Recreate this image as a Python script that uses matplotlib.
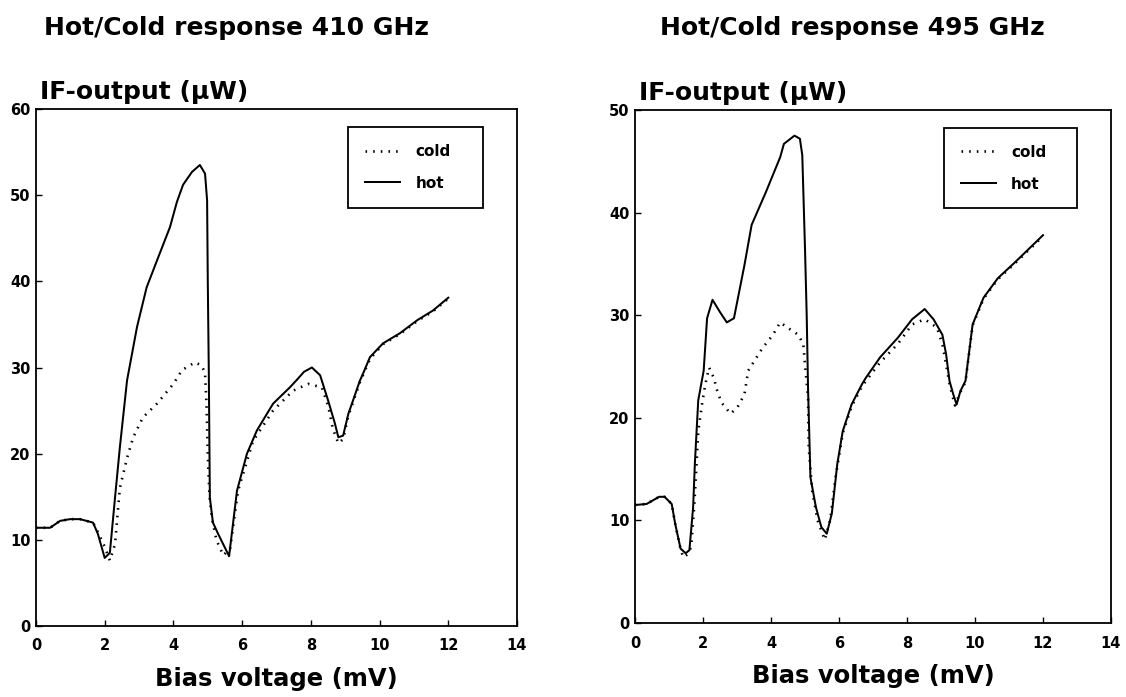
import matplotlib
matplotlib.use("Agg")
import matplotlib.pyplot as plt

# ── Hot/Cold response 410 GHz ─────────────────────────────────────────────
bias_hot_410 = [0, 0.41, 0.7, 0.99, 1.28, 1.66, 1.8, 2.0, 2.15, 2.3, 2.44, 2.65,
                2.94, 3.22, 3.52, 3.9, 4.1, 4.28, 4.54, 4.77, 4.92, 4.98, 5.0, 5.03,
                5.06, 5.15, 5.3, 5.62, 5.85, 6.14, 6.43, 6.9, 7.39, 7.6, 7.8, 8.03,
                8.27, 8.5, 8.7, 8.8, 8.94, 9.09, 9.43, 9.52, 9.72, 10.1, 10.6,
                11.1, 11.55, 12.0]
power_hot_410 = [11.4, 11.4, 12.2, 12.4, 12.4, 12.0, 10.7, 7.9, 8.5, 14.9, 20.7, 28.5,
                 34.7, 39.3, 42.4, 46.3, 49.2, 51.2, 52.7, 53.5, 52.5, 49.4, 40.0, 29.3,
                 14.9, 12.0, 10.7, 8.1, 15.7, 20.0, 22.7, 25.8, 27.7, 28.6, 29.5, 30.0,
                 29.1, 26.2, 23.5, 21.9, 22.1, 24.6, 28.5, 29.3, 31.2, 32.8, 34.0,
                 35.5, 36.6, 38.1]

bias_cold_410 = [0, 0.41, 0.7, 0.99, 1.28, 1.66, 1.8, 2.0, 2.15, 2.3, 2.44, 2.65,
                 2.83, 3.11, 3.52, 4.0, 4.25, 4.63, 4.83, 4.92, 4.96, 5.0, 5.05,
                 5.12, 5.25, 5.45, 5.65, 5.88, 6.32, 6.9, 7.48, 7.92, 8.32, 8.5,
                 8.64, 8.8, 8.94, 9.09, 9.43, 9.72, 10.1, 10.6, 11.1, 11.55, 12.0]
power_cold_410 = [11.4, 11.4, 12.2, 12.4, 12.4, 12.0, 10.9, 9.2, 7.6, 9.5, 16.0, 19.5,
                  21.9, 24.2, 25.8, 28.1, 29.7, 30.6, 30.2, 29.3, 26.0, 20.0, 15.0,
                  12.5, 10.0, 8.2, 9.0, 15.7, 21.5, 25.0, 27.3, 28.1, 27.7, 25.6,
                  22.9, 21.2, 21.7, 24.4, 28.3, 31.0, 32.7, 33.9, 35.4, 36.5, 38.0]

# ── Hot/Cold response 495 GHz ─────────────────────────────────────────────
bias_hot_495 = [0, 0.34, 0.71, 0.87, 1.08, 1.18, 1.34, 1.49, 1.6, 1.71, 1.76, 1.86,
                2.02, 2.12, 2.28, 2.5, 2.7, 2.91, 3.22, 3.43, 3.85, 4.06, 4.27,
                4.38, 4.69, 4.85, 4.92, 5.0, 5.05, 5.09, 5.16, 5.32, 5.48, 5.64,
                5.79, 5.95, 6.11, 6.37, 6.68, 6.79, 7.21, 7.73, 8.15, 8.52, 8.78,
                9.04, 9.15, 9.25, 9.36, 9.46, 9.57, 9.72, 9.93, 10.25, 10.67,
                11.19, 11.72, 12.0]
power_hot_495 = [11.5, 11.6, 12.3, 12.3, 11.6, 9.7, 7.25, 6.8, 7.1, 11.3, 15.5, 21.7,
                 24.6, 29.7, 31.5, 30.3, 29.3, 29.7, 34.9, 38.8, 42.0, 43.7, 45.4,
                 46.7, 47.5, 47.2, 45.6, 36.5, 30.0, 22.8, 14.2, 11.3, 9.35, 8.7,
                 10.7, 15.5, 18.7, 21.3, 23.3, 23.9, 25.9, 27.8, 29.6, 30.6, 29.6,
                 28.1, 26.2, 23.6, 22.3, 21.3, 22.6, 23.6, 29.1, 31.7, 33.6,
                 35.2, 36.9, 37.8]

bias_cold_495 = [0, 0.34, 0.71, 0.87, 1.08, 1.18, 1.34, 1.42, 1.55, 1.65, 1.74, 1.81,
                 1.86, 1.97, 2.07, 2.18, 2.33, 2.39, 2.54, 2.81, 3.01, 3.22, 3.33,
                 3.75, 4.06, 4.27, 4.48, 4.8, 4.95, 5.0, 5.09, 5.11, 5.21, 5.37,
                 5.58, 5.74, 5.9, 6.11, 6.37, 6.68, 7.21, 7.73, 8.15, 8.52, 8.88,
                 9.04, 9.15, 9.25, 9.41, 9.57, 9.72, 9.93, 10.25, 10.67, 11.19,
                 11.72, 12.0]
power_cold_495 = [11.5, 11.6, 12.3, 12.3, 11.6, 9.7, 7.2, 6.4, 6.7, 7.4, 11.3, 15.5,
                  18.7, 21.3, 23.3, 24.9, 23.8, 22.9, 21.5, 20.4, 21.0, 22.3, 24.6,
                  26.8, 28.1, 29.3, 28.8, 28.1, 27.2, 25.2, 22.0, 17.1, 12.9, 10.0,
                  8.1, 10.0, 14.2, 18.5, 21.1, 23.1, 25.4, 27.2, 29.1, 29.6, 28.8,
                  27.2, 25.2, 23.3, 21.2, 22.5, 23.5, 29.0, 31.6, 33.5, 35.1,
                  36.8, 37.7]

x_ticks = [0, 2, 4, 6, 8, 10, 12, 14]
y_ticks_410 = [0, 10, 20, 30, 40, 50, 60]
y_ticks_495 = [0, 10, 20, 30, 40, 50]

plt.rcParams["font.family"] = "DejaVu Sans"
plt.rcParams["font.weight"] = "bold"

W, H = 1126, 697
fig = plt.figure(figsize=(W / 100, H / 100), dpi=100)
ax1 = fig.add_axes([36 / W, 1 - 626 / H, 481 / W, 517 / H])
ax2 = fig.add_axes([635 / W, 1 - 623 / H, 476 / W, 513 / H])


def draw_panel(ax, v_hot, p_hot, v_cold, p_cold, y_ticks):
    ax.plot(v_cold, p_cold, color="black", lw=1.9,
            linestyle=(0, (0.6, 2.3)), label="cold")
    ax.plot(v_hot, p_hot, color="black", lw=1.45, label="hot")
    ax.set_xlim(0, 14)
    ax.set_ylim(0, y_ticks[-1])
    ax.set_xticks(x_ticks)
    ax.set_yticks(y_ticks)
    ax.tick_params(direction="in", length=4, width=1, labelsize=10.5)
    ax.tick_params(axis="x", pad=9)
    ax.tick_params(axis="y", pad=4)
    for s in ax.spines.values():
        s.set_linewidth(1.3)
    ax.set_xlabel("Bias voltage (mV)", fontsize=17.5, fontweight="bold", labelpad=10)
    ax.text(0.008, 1.01, "IF-output (µW)", transform=ax.transAxes,
            ha="left", va="bottom", fontsize=18, fontweight="bold")
    leg = ax.legend(loc="upper left", bbox_to_anchor=(0.649, 0.807, 0.28, 0.158),
                    mode="expand", borderaxespad=0, fancybox=False, framealpha=1,
                    edgecolor="black", fontsize=11, handlelength=2.3,
                    handletextpad=1.0, labelspacing=1.1, borderpad=1.1)
    leg.get_frame().set_linewidth(1.3)


draw_panel(ax1, bias_hot_410, power_hot_410, bias_cold_410, power_cold_410, y_ticks_410)
draw_panel(ax2, bias_hot_495, power_hot_495, bias_cold_495, power_cold_495, y_ticks_495)

fig.text(237 / W, 1 - 28 / H, "Hot/Cold response 410 GHz", ha="center", va="center",
         fontsize=18, fontweight="bold")
fig.text(852 / W, 1 - 28 / H, "Hot/Cold response 495 GHz", ha="center", va="center",
         fontsize=18, fontweight="bold")

fig.savefig("out.png", dpi=100)
